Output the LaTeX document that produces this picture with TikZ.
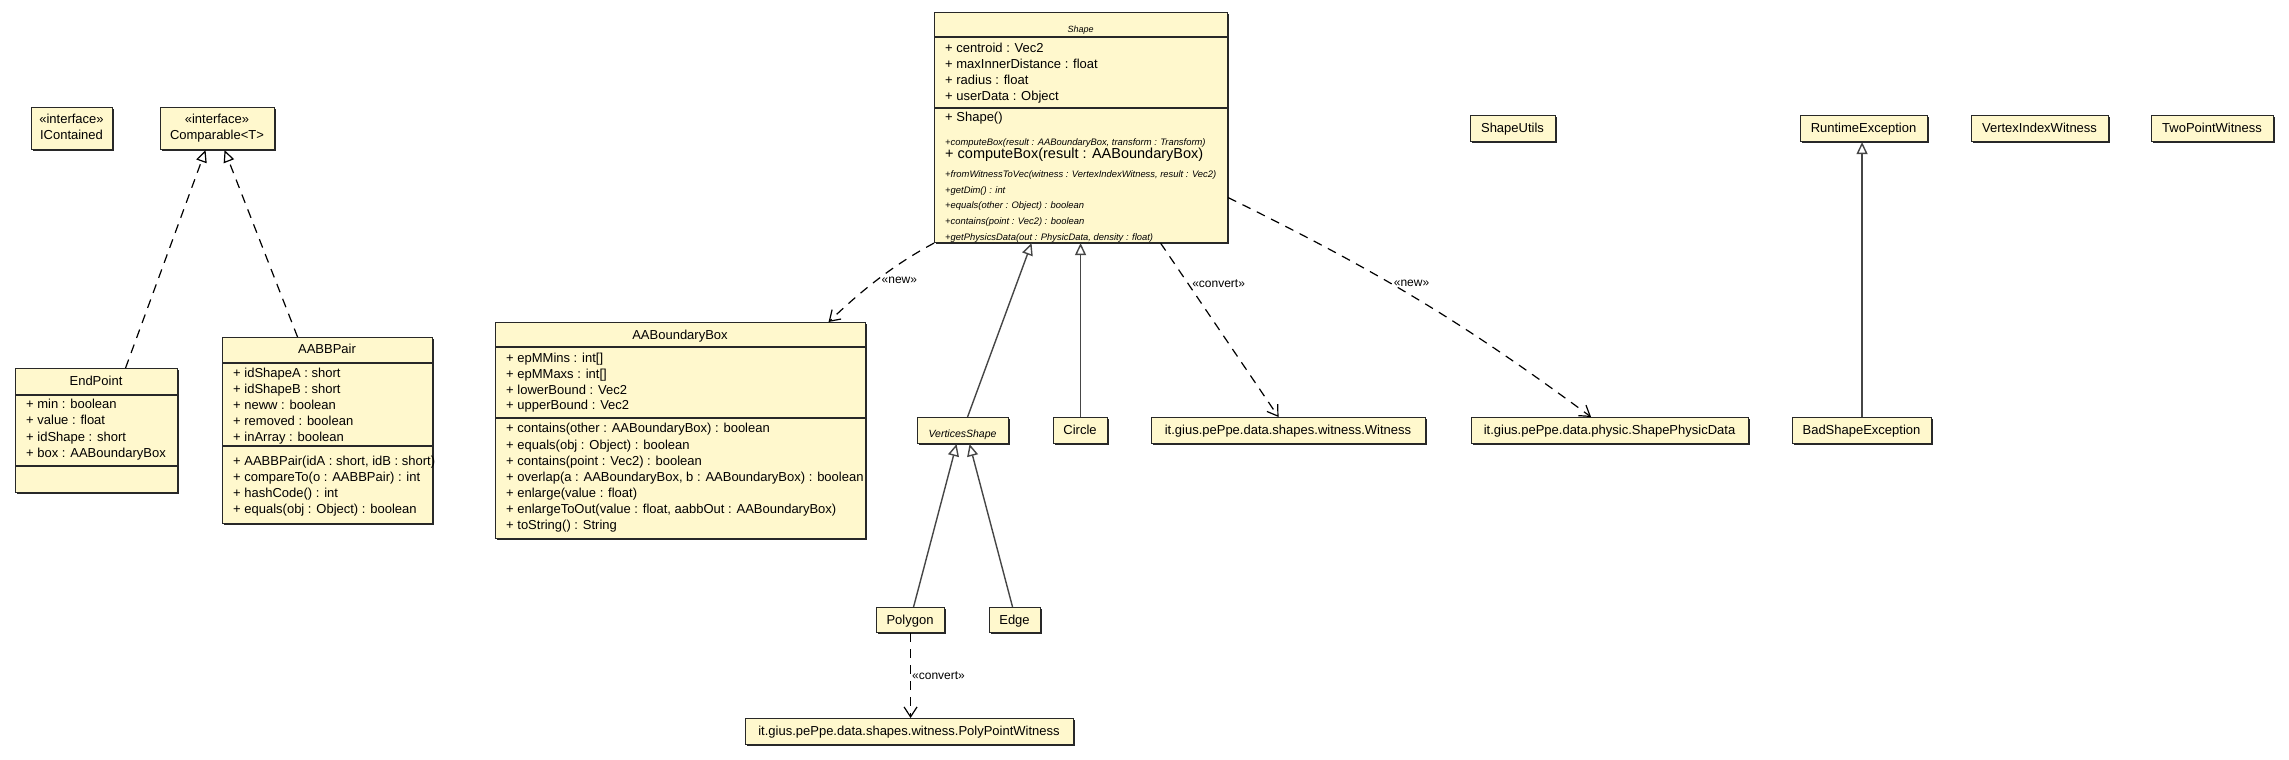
\documentclass[tikz,border=0pt]{standalone}
\usepackage{fontspec}
\setmainfont{Liberation Sans}
\usetikzlibrary{arrows.meta,shadows}

\begin{document}
\begin{tikzpicture}[x=1pt,y=-1pt,
    classbox/.style={draw=r40g40b40,line width=1.1pt,fill=r255g248b205,inner sep=0pt,anchor=north west,
      drop shadow={shadow xshift=1.5pt,shadow yshift=-1.5pt,fill=r40g40b40,opacity=1}},
    compline/.style={draw=r40g40b40,line width=1.1pt},
    member/.style={anchor=west,inner sep=0pt,text height=9.3pt,text depth=0pt,font=\fontsize{13}{16}\selectfont},
    classname/.style={member,anchor=center},
    abstractop/.style={anchor=west,inner sep=0pt,text height=6.7pt,text depth=0pt,font=\fontsize{9.4}{11}\selectfont\itshape},
    realize/.style={draw=black,line width=1.2pt,dash pattern=on 9pt off 7pt,-{Triangle[open,length=12pt,width=11pt]}},
    generalize/.style={draw=r70g70b70,line width=1.4pt,-{Triangle[open,length=12pt,width=11pt]}},
    depend/.style={draw=black,line width=1.2pt,dash pattern=on 9pt off 7pt,-{Straight Barb[length=10pt,width=13pt]}},
    deplabel/.style={anchor=west,inner sep=0pt,text height=8.6pt,text depth=0pt,font=\fontsize{12}{14}\selectfont}]

% Changing colors
\definecolor{r255g248b205}{rgb}{1.000000,0.972549,0.803922}%
\definecolor{r40g40b40}{rgb}{0.156863,0.156863,0.156863}%
\definecolor{r70g70b70}{rgb}{0.274510,0.274510,0.274510}%

% \clip (0,0) rectangle (2289,760);
\useasboundingbox (0,0) rectangle (2289,760);

% Drawing class IContained
\node[classbox,minimum width=81pt,minimum height=42pt] (icontained) at (31,107) {};%
\node[classname] (icontainedS) at (71.5,119) {«interface»};%
\node[classname] (icontainedN) at (71.5,135) {IContained};%

% Drawing class Comparable<T>
\node[classbox,minimum width=114pt,minimum height=42pt] (comparable) at (160,107) {};%
\node[classname] (comparableS) at (217,119) {«interface»};%
\node[classname] (comparableN) at (217,135) {Comparable<T>};%

% Drawing class EndPoint
\node[classbox,minimum width=162pt,minimum height=124pt] (endpoint) at (15,368) {};%
\node[classname] (endpointN) at (96,381) {EndPoint};%
\draw[compline] (15,395) -- (177,395);%
\node[member] (endpointA1) at (26,404) {+ min : boolean};%
\node[member] (endpointA2) at (26,420) {+ value : float};%
\node[member] (endpointA3) at (26,437) {+ idShape : short};%
\node[member] (endpointA4) at (26,453) {+ box : AABoundaryBox};%
\draw[compline] (15,466) -- (177,466);%

% Drawing class AABBPair
\node[classbox,minimum width=210pt,minimum height=186pt] (aabbpair) at (222,337) {};%
\node[classname] (aabbpairN) at (327,349) {AABBPair};%
\draw[compline] (222,363) -- (432,363);%
\node[member] (aabbpairA1) at (233,373) {+ idShapeA : short};%
\node[member] (aabbpairA2) at (233,389) {+ idShapeB : short};%
\node[member] (aabbpairA3) at (233,405) {+ neww : boolean};%
\node[member] (aabbpairA4) at (233,421) {+ removed : boolean};%
\node[member] (aabbpairA5) at (233,437) {+ inArray : boolean};%
\draw[compline] (222,446) -- (432,446);%
\node[member] (aabbpairM1) at (233,461) {+ AABBPair(idA : short, idB : short)};%
\node[member] (aabbpairM2) at (233,477) {+ compareTo(o : AABBPair) : int};%
\node[member] (aabbpairM3) at (233,493) {+ hashCode() : int};%
\node[member] (aabbpairM4) at (233,509) {+ equals(obj : Object) : boolean};%

% Drawing class AABoundaryBox
\node[classbox,minimum width=370pt,minimum height=216pt] (aabb) at (495,322) {};%
\node[classname] (aabbN) at (680,335) {AABoundaryBox};%
\draw[compline] (495,347) -- (865,347);%
\node[member] (aabbA1) at (506,358) {+ epMMins : int[]};%
\node[member] (aabbA2) at (506,374) {+ epMMaxs : int[]};%
\node[member] (aabbA3) at (506,390) {+ lowerBound : Vec2};%
\node[member] (aabbA4) at (506,405) {+ upperBound : Vec2};%
\draw[compline] (495,418) -- (865,418);%
\node[member] (aabbM1) at (506,428) {+ contains(other : AABoundaryBox) : boolean};%
\node[member] (aabbM2) at (506,445) {+ equals(obj : Object) : boolean};%
\node[member] (aabbM3) at (506,461) {+ contains(point : Vec2) : boolean};%
\node[member] (aabbM4) at (506,477) {+ overlap(a : AABoundaryBox, b : AABoundaryBox) : boolean};%
\node[member] (aabbM5) at (506,493) {+ enlarge(value : float)};%
\node[member] (aabbM6) at (506,509) {+ enlargeToOut(value : float, aabbOut : AABoundaryBox)};%
\node[member] (aabbM7) at (506,525) {+ toString() : String};%

% Drawing class Shape
\node[classbox,minimum width=293pt,minimum height=230pt] (shape) at (934,12) {};%
\node[abstractop,anchor=center,text height=6.5pt,font=\fontsize{9}{11}\selectfont\itshape] (shapeN) at (1080.5,29) {Shape};%
\draw[compline] (934,37) -- (1227,37);%
\node[member] (shapeA1) at (945,48) {+ centroid : Vec2};%
\node[member] (shapeA2) at (945,64) {+ maxInnerDistance : float};%
\node[member] (shapeA3) at (945,80) {+ radius : float};%
\node[member] (shapeA4) at (945,96) {+ userData : Object};%
\draw[compline] (934,108) -- (1227,108);%
\node[member] (shapeM1) at (945,117) {+ Shape()};%
\node[abstractop] (shapeM2) at (945,142) {+computeBox(result : AABoundaryBox, transform : Transform)};%
\node[member,text height=10.4pt,font=\fontsize{14.5}{17}\selectfont] (shapeM3) at (945,153) {+ computeBox(result : AABoundaryBox)};%
\node[abstractop] (shapeM4) at (945,174) {+fromWitnessToVec(witness : VertexIndexWitness, result : Vec2)};%
\node[abstractop] (shapeM5) at (945,190) {+getDim() : int};%
\node[abstractop] (shapeM6) at (945,205) {+equals(other : Object) : boolean};%
\node[abstractop] (shapeM7) at (945,221) {+contains(point : Vec2) : boolean};%
\node[abstractop] (shapeM8) at (945,237) {+getPhysicsData(out : PhysicData, density : float)};%

% Drawing classes of the top row
\node[classbox,minimum width=85pt,minimum height=26pt] (shapeutils) at (1470,115) {};%
\node[classname] (shapeutilsN) at (1512.5,128) {ShapeUtils};%
\node[classbox,minimum width=127pt,minimum height=26pt] (runtimeex) at (1800,115) {};%
\node[classname] (runtimeexN) at (1863.5,128) {RuntimeException};%
\node[classbox,minimum width=137pt,minimum height=26pt] (vertexwit) at (1971,115) {};%
\node[classname] (vertexwitN) at (2039.5,128) {VertexIndexWitness};%
\node[classbox,minimum width=122pt,minimum height=26pt] (twopointwit) at (2151,115) {};%
\node[classname] (twopointwitN) at (2212,128) {TwoPointWitness};%

% Drawing classes of the middle row
\node[classbox,minimum width=91pt,minimum height=26pt] (verticesshape) at (917,417) {};%
\node[abstractop,anchor=center,text height=7.5pt,font=\fontsize{10.5}{12}\selectfont\itshape] (verticesshapeN) at (962.5,434) {VerticesShape};%
\node[classbox,minimum width=54pt,minimum height=26pt] (circlecls) at (1053,417) {};%
\node[classname] (circleclsN) at (1080,430) {Circle};%
\node[classbox,minimum width=274pt,minimum height=26pt] (witness) at (1151,417) {};%
\node[classname] (witnessN) at (1288,430) {it.gius.pePpe.data.shapes.witness.Witness};%
\node[classbox,minimum width=277pt,minimum height=26pt] (physicdata) at (1471,417) {};%
\node[classname] (physicdataN) at (1609.5,430) {it.gius.pePpe.data.physic.ShapePhysicData};%
\node[classbox,minimum width=139pt,minimum height=26pt] (badshape) at (1792,417) {};%
\node[classname] (badshapeN) at (1861.5,430) {BadShapeException};%

% Drawing classes of the bottom rows
\node[classbox,minimum width=68pt,minimum height=25pt] (polygon) at (876,607) {};%
\node[classname] (polygonN) at (910,619.5) {Polygon};%
\node[classbox,minimum width=51pt,minimum height=25pt] (edgecls) at (989,607) {};%
\node[classname] (edgeclsN) at (1014.5,619.5) {Edge};%
\node[classbox,minimum width=328pt,minimum height=26pt] (polypointwit) at (745,718) {};%
\node[classname] (polypointwitN) at (909,731) {it.gius.pePpe.data.shapes.witness.PolyPointWitness};%

% Drawing realizations of Comparable<T>
\draw[realize] ([xshift=29pt]endpoint.north) -- ([xshift=-12pt]comparable.south);%
\draw[realize] ([xshift=-30pt]aabbpair.north) -- ([xshift=7pt]comparable.south);%

% Drawing generalizations
\draw[generalize] ([xshift=4.5pt]verticesshape.north) -- ([xshift=-49.5pt]shape.south);%
\draw[generalize] (circlecls.north) -- (circlecls.north |- shape.south);%
\draw[generalize] ([xshift=3pt]polygon.north) -- ([xshift=-6.5pt]verticesshape.south);%
\draw[generalize] ([xshift=-2.5pt]edgecls.north) -- ([xshift=6.5pt]verticesshape.south);%
\draw[generalize] (badshape.north) -- (badshape.north |- runtimeex.south);%

% Drawing dependencies
\draw[depend] (shape.south west) .. controls (893,265) and (861,291) .. ([xshift=148pt]aabb.north)
  node[deplabel,pos=0.5,xshift=3pt] (newaabb) {«new»};%
\draw[depend] ([xshift=79.5pt]shape.south) -- ([xshift=-10pt]witness.north)
  node[deplabel,pos=0.23,xshift=4pt] (convertwit) {«convert»};%
\draw[depend] ([yshift=-70pt]shape.east) .. controls (1377,271) and (1460,320) .. ([xshift=-19pt]physicdata.north)
  node[deplabel,pos=0.42,xshift=4pt] (newphysic) {«new»};%
\draw[depend] (polygon.south) -- (polygon.south |- polypointwit.north)
  node[deplabel,midway,xshift=1pt] (convertpoly) {«convert»};%
\end{tikzpicture}
\end{document}
